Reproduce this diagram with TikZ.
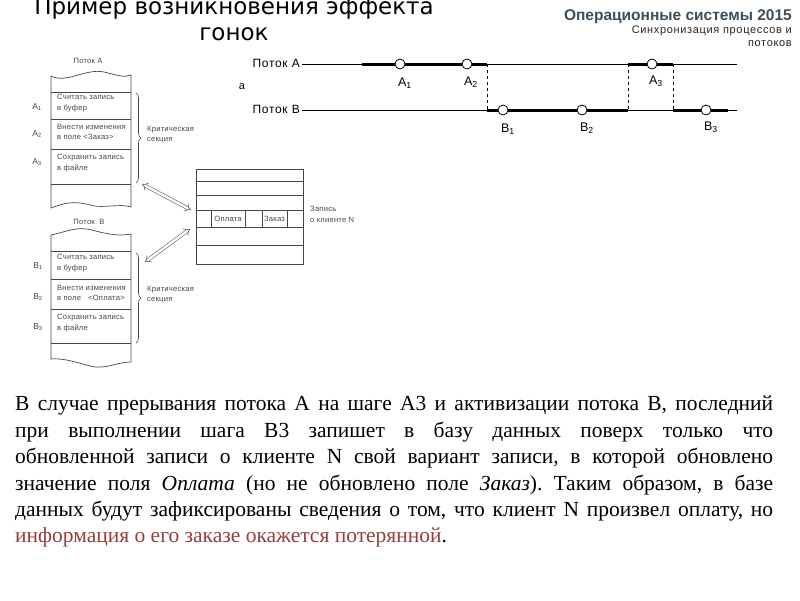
\documentclass[tikz,border=0pt]{standalone}
\usepackage{fontspec}
\setmainfont{Liberation Serif}
\setsansfont{Liberation Sans}
\newfontfamily\titlefont{DejaVu Sans}
\newfontfamily\widesans[LetterSpace=6]{Liberation Sans}
\newfontfamily\smallsans[LetterSpace=3]{Liberation Sans}
\usetikzlibrary{arrows.meta,decorations.pathreplacing,positioning}
\definecolor{headgray}{RGB}{60,78,90}
\definecolor{lostred}{RGB}{150,62,62}
\definecolor{figgray}{RGB}{70,70,70}
\newcommand{\steplab}[2]{#1\textsubscript{#2}}
\frenchspacing

\begin{document}
\begin{tikzpicture}[x=1pt,y=-1pt,
  event/.style={circle,draw,fill=white,inner sep=0pt,minimum size=10pt,line width=0.8pt},
  thinline/.style={line width=1pt},
  thickline/.style={line width=3pt},
  evlabel/.style={font=\widesans\fontsize{12.5}{12.5}\selectfont,inner sep=0pt},
  threadname/.style={font=\widesans\fontsize{12}{12}\selectfont,inner sep=0pt,anchor=east},
  smalltext/.style={font=\smallsans\fontsize{7.6}{10.5}\selectfont,text=figgray,inner sep=0pt,align=left},
  stepbox/.style={smalltext,anchor=north west},
  brace/.style={decorate,decoration={brace,amplitude=5pt},figgray,line width=0.6pt},
  dbarrow/.style={double,double distance=2.5pt,figgray,line width=0.5pt,{Implies}-{Implies}}]
\useasboundingbox (0,0) rectangle (800,600);

%%%%% heading
\node[font=\titlefont\fontsize{23}{23}\selectfont,anchor=base,inner sep=0pt] (title1) at (234,14) {Пример возникновения эффекта};
\node[font=\titlefont\fontsize{23}{23}\selectfont,anchor=base,inner sep=0pt] (title2) at (234,40) {гонок};
\node[font=\sffamily\bfseries\fontsize{15.5}{15.5}\selectfont,text=headgray,anchor=base east,inner sep=0pt] (course) at (792,20) {Операционные системы 2015};
\node[font=\widesans\fontsize{11}{13}\selectfont,text=black!85,anchor=north east,align=right,inner sep=0pt] (topic) at (792,26) {Синхронизация процессов и\\потоков};

%%%%% timelines
\node[threadname] (thA) at (300,63) {Поток А};
\node[threadname] (thB) at (300,109) {Поток В};
\node[font=\sffamily\fontsize{11}{11}\selectfont,inner sep=0pt] (mark) at (242,87) {а};

\coordinate (a0) at (302,64);
\coordinate (a1s) at (362,64);
\node[event] (A1) at (400,64) {};
\node[event] (A2) at (467,64) {};
\coordinate (a2e) at (487,64);
\coordinate (a3s) at (628,64);
\node[event] (A3) at (652,64) {};
\coordinate (a3e) at (673,64);
\coordinate (aend) at (737,64);

\coordinate (b0) at (302,110);
\coordinate (b1s) at (487,110);
\node[event] (B1) at (503,110) {};
\node[event] (B2) at (582,110) {};
\coordinate (b2e) at (628,110);
\coordinate (b3s) at (673,110);
\node[event] (B3) at (706,110) {};
\coordinate (b3e) at (728,110);
\coordinate (bend) at (737,110);

\draw[thinline] (a0) -- (a1s);
\draw[thickline] (a1s) -- (A1);
\draw[thickline] (A1) -- (A2);
\draw[thickline] (A2) -- (a2e);
\draw[thinline] (a2e) -- (a3s);
\draw[thickline] (a3s) -- (A3);
\draw[thickline] (A3) -- (a3e);
\draw[thinline] (a3e) -- (aend);

\draw[thinline] (b0) -- (b1s);
\draw[thickline] (b1s) -- (B1);
\draw[thickline] (B1) -- (B2);
\draw[thickline] (B2) -- (b2e);
\draw[thinline] (b2e) -- (b3s);
\draw[thickline] (b3s) -- (B3);
\draw[thickline] (B3) -- (b3e);
\draw[thinline] (b3e) -- (bend);

\draw[dashed,line width=0.8pt] (a2e) -- (b1s);
\draw[dashed,line width=0.8pt] (a3s) -- (b2e);
\draw[dashed,line width=0.8pt] (a3e) -- (b3s);

\node[evlabel] (lA1) at (405,83) {\steplab{A}{1}};
\node[evlabel] (lA2) at (471,82) {\steplab{A}{2}};
\node[evlabel] (lA3) at (656,81) {\steplab{A}{3}};
\node[evlabel] (lB1) at (508,129) {\steplab{B}{1}};
\node[evlabel] (lB2) at (587,128) {\steplab{B}{2}};
\node[evlabel] (lB3) at (711,127) {\steplab{B}{3}};

%%%%% thread A listing
\node[smalltext] (nameA) at (88,61) {Поток А};
\draw[figgray,line width=0.7pt] (51,76) .. controls (66,84) and (86,68) .. (104,72) .. controls (117,75) and (124,78) .. (131,75)
  -- (131,207) .. controls (118,203) and (104,209) .. (90,205) .. controls (72,200) and (62,204) .. (51,208) -- cycle;
\draw[figgray,line width=0.7pt] (51,92) -- (131,92);
\draw[figgray,line width=0.7pt] (51,119) -- (131,119);
\draw[figgray,line width=0.7pt] (51,149) -- (131,149);
\draw[figgray,line width=0.7pt] (51,184) -- (131,184);
\node[stepbox] (sA1) at (57,94) {Считать запись\\в буфер};
\node[stepbox] (sA2) at (57,124) {Внести изменения\\в поле <Заказ>};
\node[stepbox] (sA3) at (57,154) {Сохранить запись\\в файле};
\node[smalltext,font=\smallsans\fontsize{8.5}{8.5}\selectfont] (kA1) at (37,107) {\steplab{A}{1}};
\node[smalltext,font=\smallsans\fontsize{8.5}{8.5}\selectfont] (kA2) at (37,134) {\steplab{A}{2}};
\node[smalltext,font=\smallsans\fontsize{8.5}{8.5}\selectfont] (kA3) at (37,162) {\steplab{A}{3}};
\coordinate (brA1) at (136,93);
\coordinate (brA2) at (136,183);
\draw[brace] (brA1) -- (brA2);
\node[stepbox] (critA) at (147,126) {Критическая\\секция};

%%%%% thread B listing
\node[smalltext] (nameB) at (89,222) {Поток \ В};
\draw[figgray,line width=0.7pt] (51,235) .. controls (66,232) and (76,226) .. (92,230) .. controls (110,235) and (120,236) .. (131,234)
  -- (131,362) .. controls (116,362) and (106,370) .. (90,366) .. controls (72,361) and (62,358) .. (51,359) -- cycle;
\draw[figgray,line width=0.7pt] (51,251) -- (131,251);
\draw[figgray,line width=0.7pt] (51,279) -- (131,279);
\draw[figgray,line width=0.7pt] (51,309) -- (131,309);
\draw[figgray,line width=0.7pt] (51,343) -- (131,343);
\node[stepbox] (sB1) at (57,254) {Считать запись\\в буфер};
\node[stepbox] (sB2) at (57,285) {Внести изменения\\в поле \ \ <Оплата>};
\node[stepbox] (sB3) at (57,314) {Сохранить запись\\в файле};
\node[smalltext,font=\smallsans\fontsize{8.5}{8.5}\selectfont] (kB1) at (38,266) {\steplab{B}{1}};
\node[smalltext,font=\smallsans\fontsize{8.5}{8.5}\selectfont] (kB2) at (38,297) {\steplab{B}{2}};
\node[smalltext,font=\smallsans\fontsize{8.5}{8.5}\selectfont] (kB3) at (38,327) {\steplab{B}{3}};
\coordinate (brB1) at (136,253);
\coordinate (brB2) at (136,343);
\draw[brace] (brB1) -- (brB2);
\node[stepbox] (critB) at (147,286) {Критическая\\секция};

%%%%% client record
\node[draw=figgray,line width=0.7pt,minimum width=107pt,minimum height=95pt,inner sep=0pt] (rec) at (249.5,216.5) {};
\draw[figgray,line width=0.7pt] (196,181) -- (303,181);
\draw[figgray,line width=0.7pt] (196,195) -- (303,195);
\draw[figgray,line width=0.7pt] (196,210) -- (303,210);
\draw[figgray,line width=0.7pt] (196,227) -- (303,227);
\draw[figgray,line width=0.7pt] (196,245) -- (303,245);
\draw[figgray,line width=0.7pt] (211,210) -- (211,227);
\draw[figgray,line width=0.7pt] (245,210) -- (245,227);
\draw[figgray,line width=0.7pt] (262,210) -- (262,227);
\draw[figgray,line width=0.7pt] (287,210) -- (287,227);
\node[smalltext] (pay) at (228,218.5) {Оплата};
\node[smalltext] (order) at (274.5,218.5) {Заказ};
\node[stepbox] (recname) at (310,206) {Запись\\о клиенте N};

\coordinate (arA) at (142,184);
\coordinate (arB) at (145,262);
\coordinate (toA) at (191,210);
\coordinate (toB) at (190,229);
\draw[dbarrow] (arA) -- (toA);
\draw[dbarrow] (arB) -- (toB);

%%%%% explanation
\node[anchor=north west,inner sep=0pt,text width=758pt,align=justify,
  font=\fontsize{21.5}{26.4}\selectfont] (expl) at (15,396)
  {В случае прерывания потока А на шаге А3 и активизации потока В, последний\linebreak
   при выполнении шага В3 запишет в базу данных поверх только что\linebreak
   обновленной записи о клиенте N свой вариант записи, в которой обновлено\linebreak
   значение поля \textit{Оплата} (но не обновлено поле \textit{Заказ}). Таким образом, в базе\linebreak
   данных будут зафиксированы сведения о том, что клиент N произвел оплату, но\linebreak
   \textcolor{lostred}{информация о его заказе окажется потерянной}.};
\end{tikzpicture}
\end{document}
